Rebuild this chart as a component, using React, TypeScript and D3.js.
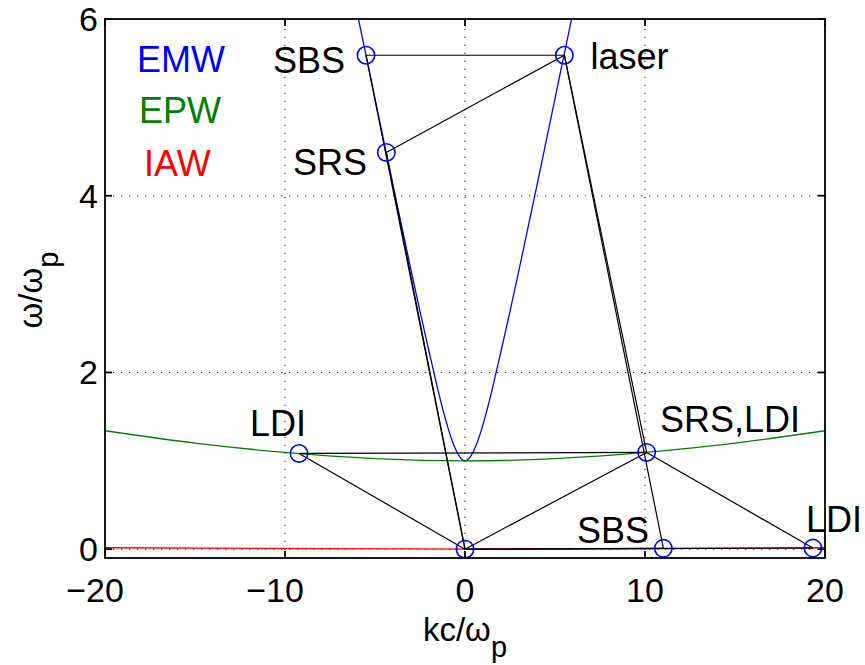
import React from 'react';
import * as d3 from 'd3';

const W = 865;
const H = 665;

// axis ticks
const xTicks = [-20, -10, 0, 10, 20];
const yTicks = [0, 2, 4, 6];
const xTickLabels = ['\u221220', '\u221210', '0', '10', '20'];
const yTickLabels = ['0', '2', '4', '6'];

// EMW dispersion curve (blue)
const emwK = [-6.5, -6, -5.5, -5, -4.5, -4, -3.5, -3, -2.5, -2, -1.5, -1, -0.5, 0, 0.5, 1, 1.5, 2, 2.5, 3, 3.5, 4, 4.5, 5, 5.5, 6, 6.5];
const emwW = [6.58, 6.08, 5.59, 5.1, 4.61, 4.12, 3.64, 3.16, 2.69, 2.24, 1.8, 1.41, 1.12, 1.0, 1.12, 1.41, 1.8, 2.24, 2.69, 3.16, 3.64, 4.12, 4.61, 5.1, 5.59, 6.08, 6.58];

// EPW dispersion curve (green)
const epwK = [-20, -15, -10, -5, 0, 5, 10, 15, 20];
const epwW = [1.34, 1.2, 1.095, 1.025, 1.0, 1.025, 1.095, 1.2, 1.34];

// IAW dispersion curve (red)
const iawK = [-20, 0, 20];
const iawW = [0.016, 0, 0.016];

// wave points (blue circles)
const pointNames = ['origin', 'laser', 'sbsEM', 'srsEM', 'epw1', 'sbsIAW', 'epw2', 'iaw2'];
const pointK = [0, 5.52, -5.5, -4.37, 10.09, 11.02, -9.22, 19.33];
const pointW = [0, 5.59, 5.59, 4.49, 1.095, 0.009, 1.083, 0.012];

// black links between points (indices into the point arrays)
const linkFrom = [1, 1, 2, 3, 1, 1, 0, 0, 6, 0, 4, 0];
const linkTo = [2, 3, 0, 0, 4, 5, 4, 5, 4, 6, 7, 7];

// annotation labels (data coords of left edge / baseline)
const labelText = ['SBS', 'SRS', 'laser', 'LDI', 'SRS,LDI', 'SBS', 'LDI'];
const labelK = [-10.67, -9.56, 6.97, -11.94, 10.83, 6.22, 18.94];
const labelW = [5.39, 4.23, 5.434, 1.281, 1.326, 0.07, 0.194];

// legend-like text
const legendText = ['EMW', 'EPW', 'IAW'];
const legendColor = ['#0000ff', '#008000', '#ff0000'];
const legendK = [-18.22, -18.11, -17.83];
const legendW = [5.4, 4.82, 4.223];

const FONT = '"Liberation Sans", Arial, Helvetica, sans-serif';

export default function App() {
  const left = 105, right = 825, top = 19, bottom = 558;
  const x = d3.scaleLinear().domain([-20, 20]).range([left, right]);
  const y = d3.scaleLinear().domain([-0.1, 6]).range([bottom, top]);

  const line = d3
    .line<[number, number]>()
    .x((d) => x(d[0]))
    .y((d) => y(d[1]))
    .curve(d3.curveNatural);

  const emwPath = line(emwK.map((k, i) => [k, emwW[i]]) as [number, number][]) || '';
  const epwPath = line(epwK.map((k, i) => [k, epwW[i]]) as [number, number][]) || '';
  const iawPath =
    d3
      .line<[number, number]>()
      .x((d) => x(d[0]))
      .y((d) => y(d[1]))(iawK.map((k, i) => [k, iawW[i]]) as [number, number][]) || '';

  const tickLen = 7;
  const gridColor = '#262626';

  return (
    <svg
      width={W}
      height={H}
      viewBox={`0 0 ${W} ${H}`}
      style={{ position: 'absolute', left: 0, top: 0, background: '#fff' }}
      fontFamily={FONT}
    >
      <defs>
        <clipPath id="plotclip">
          <rect x={left} y={top} width={right - left} height={bottom - top} />
        </clipPath>
      </defs>
      <rect x={0} y={0} width={W} height={H} fill="#fff" />

      {/* grid */}
      <g stroke={gridColor} strokeWidth={1.1} strokeDasharray="1.2,6.8">
        {xTicks
          .filter((t) => t > -20 && t < 20)
          .map((t) => (
            <line key={'gx' + t} x1={x(t)} x2={x(t)} y1={bottom} y2={top} />
          ))}
        {yTicks
          .filter((t) => t < 6)
          .map((t) => (
            <line key={'gy' + t} x1={left} x2={right} y1={y(t)} y2={y(t)} />
          ))}
      </g>

      {/* dispersion curves */}
      <g clipPath="url(#plotclip)" fill="none" strokeWidth={1.3}>
        <path d={emwPath} stroke="#0000ff" />
        <path d={epwPath} stroke="#008000" />
        <path d={iawPath} stroke="#ff0000" />
      </g>

      {/* links */}
      <g stroke="#000" strokeWidth={1.2}>
        {linkFrom.map((a, i) => {
          const b = linkTo[i];
          return (
            <line
              key={'l' + i}
              x1={x(pointK[a])}
              y1={y(pointW[a])}
              x2={x(pointK[b])}
              y2={y(pointW[b])}
            />
          );
        })}
      </g>

      {/* points */}
      <g fill="none" stroke="#0000ff" strokeWidth={1.6}>
        {pointNames.map((n, i) => (
          <circle key={n} cx={x(pointK[i])} cy={y(pointW[i])} r={8.7} />
        ))}
      </g>

      {/* axes box & ticks */}
      <g stroke="#000" strokeWidth={1.8} fill="none">
        <rect x={left} y={top} width={right - left} height={bottom - top} />
        {xTicks.map((t) => (
          <g key={'tx' + t}>
            <line x1={x(t)} x2={x(t)} y1={bottom} y2={bottom - tickLen} />
            <line x1={x(t)} x2={x(t)} y1={top} y2={top + tickLen} />
          </g>
        ))}
        {yTicks.map((t) => (
          <g key={'ty' + t}>
            <line x1={left} x2={left + tickLen} y1={y(t)} y2={y(t)} />
            <line x1={right} x2={right - tickLen} y1={y(t)} y2={y(t)} />
          </g>
        ))}
      </g>

      {/* tick labels */}
      <g fontSize={34} fill="#000">
        {xTicks.map((t, i) => (
          <text key={'xl' + t} x={x(t) + (t < 0 ? -10 : 0)} y={602} textAnchor="middle">
            {xTickLabels[i]}
          </text>
        ))}
        {yTicks.map((t, i) => (
          <text key={'yl' + t} x={98} y={y(t) + 12} textAnchor="end">
            {yTickLabels[i]}
          </text>
        ))}
      </g>

      {/* axis labels */}
      <text x={465} y={641} fontSize={33} textAnchor="middle" fill="#000">
        kc/ω
        <tspan fontSize={29} dy={16}>
          p
        </tspan>
      </text>
      <text
        transform={`translate(42,290) rotate(-90)`}
        fontSize={33}
        textAnchor="middle"
        fill="#000"
      >
        ω/ω
        <tspan fontSize={29} dy={16}>
          p
        </tspan>
      </text>

      {/* annotation labels */}
      <g fontSize={36} fill="#000">
        {labelText.map((t, i) => (
          <text key={'a' + i} x={x(labelK[i])} y={y(labelW[i])}>
            {t}
          </text>
        ))}
      </g>
      <g fontSize={36}>
        {legendText.map((t, i) => (
          <text key={'g' + i} x={x(legendK[i])} y={y(legendW[i])} fill={legendColor[i]}>
            {t}
          </text>
        ))}
      </g>
    </svg>
  );
}
